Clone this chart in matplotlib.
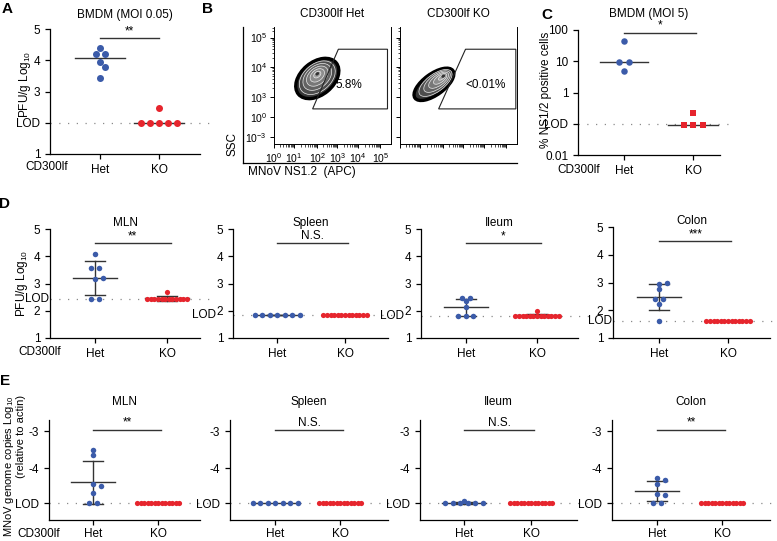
import numpy as np
import matplotlib
matplotlib.use('Agg')
import matplotlib.pyplot as plt
from matplotlib.patches import Ellipse, Polygon

plt.rcParams['font.family'] = ['Liberation Sans', 'DejaVu Sans']
plt.rcParams['mathtext.default'] = 'regular'
plt.rcParams['axes.unicode_minus'] = False
plt.rcParams['font.size'] = 8.5
plt.rcParams['axes.linewidth'] = 0.9
plt.rcParams['xtick.major.width'] = 0.9
plt.rcParams['ytick.major.width'] = 0.9

W, H = 777, 541
BLUE = '#3b5ba9'
RED = '#e6252d'
GREY = '#333333'

# ---- data ----
groups = ['Het', 'KO']

# A: BMDM (MOI 0.05), PFU/g log10
a_het = [4.38, 4.19, 4.19, 3.95, 3.79, 3.44]
a_ko = [2.46, 2.0, 2.0, 2.0, 2.0, 2.0]
a_lod = 2.0

# B: flow plots
b_titles = ['CD300lf Het', 'CD300lf KO']
b_percent = ['5.8%', '<0.01%']
b_xlabels = ['$10^{0}$', '$10^{1}$', '$10^{2}$', '$10^{3}$', '$10^{4}$', '$10^{5}$']
b_ylabels = ['$10^{-3}$', '$10^{0}$', '$10^{3}$', '$10^{4}$', '$10^{5}$']

# C: BMDM (MOI 5), % NS1/2 positive cells
c_het = [45, 9.5, 9.5, 5.0]
c_ko = [0.22, 0.09, 0.09, 0.09]
c_lod = 0.1

# D: PFU/g log10 in tissues
tissues = ['MLN', 'Spleen', 'Ileum', 'Colon']
d_lod = [2.43, 1.86, 1.82, 1.62]
d_sig = ['**', 'N.S.', '*', '***']
d_het = [[4.09, 3.57, 3.57, 3.15, 3.22, 2.43, 2.43],
         [1.86] * 7,
         [2.48, 2.48, 2.36, 2.15, 1.82, 1.82, 1.82],
         [2.95, 2.97, 2.76, 2.41, 2.41, 2.22, 1.62]]
d_ko = [[2.70] + [2.43] * 12,
        [1.86] * 13,
        [2.00] + [1.82] * 13,
        [1.62] * 13]

# E: MNoV genome copies log10 (relative to actin)
e_lod = -4.95
e_sig = ['**', 'N.S.', 'N.S.', '**']
e_het = [[-3.52, -3.66, -4.42, -4.49, -4.68, -4.95, -4.95],
         [-4.95] * 7,
         [-4.90] + [-4.95] * 6,
         [-4.27, -4.33, -4.44, -4.69, -4.73, -4.95, -4.95]]
e_ko = [[-4.95] * 13 for _ in range(4)]


fig = plt.figure(figsize=(W / 100, H / 100), dpi=100)


def px_axes(l, t, r, b):
    return fig.add_axes([l / W, 1 - b / H, (r - l) / W, (b - t) / H])


def dot_axes(l, t, r, b, het, ko):
    ax = px_axes(l, t, r, b)
    s = ko - het
    ax.set_xlim((l - het) / s, (r - het) / s)
    ax.spines[['top', 'right']].set_visible(False)
    ax.set_xticks([0, 1])
    ax.set_xticklabels(groups)
    ax.tick_params(direction='out', length=3.5)
    return ax


def px_per_x(ax):
    p = ax.transData.transform([(0, 1), (1, 1)])
    return p[1, 0] - p[0, 0]


def swarm(ax, vals, center, step, diam):
    vals = np.asarray(vals, float)
    ypix = ax.transData.transform(np.column_stack([np.zeros_like(vals), vals]))[:, 1]
    off = np.zeros(len(vals))
    uniq, counts = np.unique(vals, return_counts=True)
    for u, c in zip(uniq, counts):
        if c > 1:
            idx = np.where(vals == u)[0]
            off[idx] = (np.arange(c) - (c - 1) / 2) * step
    placed = []
    for i, v in enumerate(vals):
        if counts[np.searchsorted(uniq, v)] > 1:
            continue
        for k in [0, 1, -1, 2, -2, 3, -3]:
            o = k * step / 2
            if all(np.hypot(o - po, ypix[i] - py) >= diam for po, py in placed):
                break
        off[i] = o
        placed.append((o, ypix[i]))
    return center + off / px_per_x(ax)


def group(ax, vals, pos, color, marker, diam, step, stat, half=22, cap=10):
    ppx = px_per_x(ax)
    vals = np.asarray(vals, float)
    if stat == 'median':
        m = np.median(vals)
        ax.plot([pos - half / ppx, pos + half / ppx], [m, m], color=GREY, lw=1, zorder=3)
    else:
        m = vals.mean()
        sd = vals.std(ddof=1)
        ax.plot([pos - half / ppx, pos + half / ppx], [m, m], color=GREY, lw=1, zorder=3)
        if sd > 0:
            ax.plot([pos, pos], [m - sd, m + sd], color=GREY, lw=1, zorder=3)
            for y in (m - sd, m + sd):
                ax.plot([pos - cap / ppx, pos + cap / ppx], [y, y], color=GREY, lw=1, zorder=3)
    xs = swarm(ax, vals, pos, step, diam * 0.85)
    ax.scatter(xs, vals, s=(diam * 0.72) ** 2, color=color, marker=marker,
               linewidths=0, zorder=4, clip_on=False)


def lod_line(ax, lod):
    x0, x1 = ax.get_xlim()
    ax.plot([x0, x1 + 0.15], [lod, lod], color='#8a8a8a', lw=0.9,
            ls=(0, (1, 6)), zorder=1, clip_on=False)


def sig(ax, x0, x1, y, txt):
    ax.plot([x0, x1], [y, y], color=GREY, lw=1, clip_on=False)
    ax.annotate(txt, xy=((x0 + x1) / 2, y), xytext=(0, 0.8), textcoords='offset points',
                ha='center', va='bottom', annotation_clip=False)


def lod_label(ax, lod, off):
    ax.annotate('LOD', xy=(0, lod), xycoords=('axes fraction', 'data'),
                xytext=(-off, 0), textcoords='offset points', ha='right', va='center')


def txt(x, y, s, **kw):
    fig.text(x / W, 1 - y / H, s, **kw)


# ---- A ----
ax = dot_axes(50, 29, 200, 154, 100, 159)
ax.set_ylim(1, 5)
ax.set_yticks([1, 2, 3, 4, 5])
ax.set_yticklabels(['1', 'LOD', '3', '4', '5'])
lod_line(ax, a_lod)
group(ax, a_het, 0, BLUE, 'o', 7, 9, 'median', half=25)
group(ax, a_ko, 1, RED, 'o', 7, 9, 'median', half=25)
sig(ax, 0, 1.0, 4.71, '**')
ax.set_title('BMDM (MOI 0.05)', pad=8, fontsize=8.5)
txt(25, 84, 'PFU/g Log$_{10}$', rotation=90, ha='center', va='center')
txt(25, 167, 'CD300lf', ha='left', va='center')

# ---- B ----
frame = px_axes(243, 27, 517, 163)
frame.set_facecolor('none')
frame.spines[['top', 'right']].set_visible(False)
frame.set_xticks([])
frame.set_yticks([])
txt(233, 144, 'SSC', rotation=90, ha='center', va='center')
txt(248, 172, 'MNoV NS1.2  (APC)', ha='left', va='center')

bx_major = [0.0, 0.17, 0.37, 0.54, 0.72, 0.91]
by_major = [0.06, 0.23, 0.40, 0.66, 0.91]
bx_minor = []
for a, b in zip(bx_major[:-1], bx_major[1:]):
    bx_minor += [a + (b - a) * np.log10(m) for m in range(2, 10)]
by_minor = []
for a, b in zip(by_major[2:-1], by_major[3:]):
    by_minor += [a + (b - a) * np.log10(m) for m in range(2, 10)]
by_minor += [0.965, 0.99]

blobs = [dict(c=(0.37, 0.56), w=0.42, h=0.28, ang=40, core=(0.37, 0.60)),
         dict(c=(0.29, 0.51), w=0.40, h=0.18, ang=36, core=(0.37, 0.58))]
gates = [[(0.33, 0.30), (0.55, 0.81), (0.97, 0.81), (0.97, 0.30)],
         [(0.33, 0.30), (0.56, 0.81), (0.99, 0.81), (0.99, 0.30)]]
pct_pos = [(0.64, 0.50), (0.73, 0.50)]

for i, (title, pct) in enumerate(zip(b_titles, b_percent)):
    l = [274, 400][i]
    bx = px_axes(l, 27, l + 117, 144)
    bx.set_facecolor('none')
    bx.set_xlim(0, 1)
    bx.set_ylim(0, 1)
    bx.spines['top'].set_visible(False)
    bx.spines[['left', 'right', 'bottom']].set_linewidth(0.7)
    bx.set_xticks(bx_major)
    bx.set_xticks(bx_minor, minor=True)
    bx.set_yticks(by_major)
    bx.set_yticks(by_minor, minor=True)
    bx.tick_params(direction='out', length=3, width=0.7, labelsize=7.5, pad=2)
    bx.tick_params(which='minor', length=1.8, width=0.5)
    if i == 0:
        bx.set_xticklabels(b_xlabels)
        bx.set_yticklabels(b_ylabels)
    else:
        bx.set_xticklabels([])
        bx.set_yticklabels([])
    bx.set_title(title, pad=7, fontsize=8.5)
    bx.text(*pct_pos[i], pct, transform=bx.transAxes, ha='center', va='center',
            fontsize=8.5, zorder=1)
    bl = blobs[i]
    n = 6
    for k in range(n):
        f = 1 - k / n
        cx = bl['core'][0] + (bl['c'][0] - bl['core'][0]) * f
        cy = bl['core'][1] + (bl['c'][1] - bl['core'][1]) * f
        shade = 0.22 + 0.5 * k / n
        bx.add_patch(Ellipse((cx, cy), bl['w'] * f, bl['h'] * f, angle=bl['ang'],
                             transform=bx.transAxes, fc=str(shade),
                             ec='black' if k == 0 else '0.92',
                             lw=2.4 if k == 0 else 0.5, zorder=2))
    bx.add_patch(Ellipse(bl['core'], 0.035, 0.025, angle=bl['ang'], transform=bx.transAxes,
                         fc='0.2', ec='none', zorder=2))
    bx.add_patch(Polygon(gates[i], closed=True, fill=False, ec='#222222', lw=0.8,
                         transform=bx.transAxes, zorder=3))

# ---- C ----
ax = dot_axes(578, 30, 720, 155, 624, 693)
ax.set_yscale('log')
ax.set_ylim(0.01, 100)
ax.set_yticks([0.01, 0.1, 1, 10, 100])
ax.set_yticklabels(['0.01', 'LOD', '1', '10', '100'])
ax.yaxis.set_minor_locator(matplotlib.ticker.NullLocator())
lod_line(ax, c_lod)
group(ax, c_het, 0, BLUE, 'o', 6.5, 10, 'median', half=24)
group(ax, c_ko, 1, RED, 's', 6.5, 9.5, 'median', half=25)
sig(ax, 0, 1.04, 80, '*')
ax.set_title('BMDM (MOI 5)', pad=9, fontsize=8.5)
txt(546, 90, '% NS1/2 positive cells', rotation=90, ha='center', va='center')
txt(557, 170, 'CD300lf', ha='left', va='center')

# ---- D ----
d_boxes = [(50, 229, 200, 338, 95, 167), (233, 229, 388, 338, 277, 345),
           (421, 229, 578, 338, 466, 537), (613, 227, 770, 338, 659, 728)]
for i, name in enumerate(tissues):
    ax = dot_axes(*d_boxes[i])
    ax.set_ylim(1, 5)
    ax.set_yticks([1, 2, 3, 4, 5])
    lod_line(ax, d_lod[i])
    lod_label(ax, d_lod[i], 12.5 if abs(d_lod[i] - 2) < 0.3 else 0.5)
    group(ax, d_het[i], 0, BLUE, 'o', 5.5, 7.5, 'mean')
    group(ax, d_ko[i], 1, RED, 'o', 5.2, 3.6, 'mean')
    sig(ax, 0, 1.05, 4.48, d_sig[i])
    ax.set_title(name, pad=2, fontsize=8.5)
txt(22, 283, 'PFU/g Log$_{10}$', rotation=90, ha='center', va='center')
txt(18, 352, 'CD300lf', ha='left', va='center')

# ---- E ----
e_boxes = [(49, 420, 200, 520, 93, 158), (230, 420, 388, 520, 275, 340),
           (420, 420, 577, 520, 464, 531), (612, 420, 770, 520, 657, 722)]
for i, name in enumerate(tissues):
    ax = dot_axes(*e_boxes[i])
    ax.set_ylim(-5.405, -2.70)
    ax.set_yticks([e_lod, -4, -3])
    ax.set_yticklabels(['LOD', '-4', '-3'])
    ax.tick_params(axis='x', pad=2.5)
    lod_line(ax, e_lod)
    group(ax, e_het[i], 0, BLUE, 'o', 5.5, 7.5, 'mean')
    group(ax, e_ko[i], 1, RED, 'o', 5.2, 3.5, 'mean')
    sig(ax, 0, 1.05, -2.97, e_sig[i])
    ax.set_title(name, pad=11, fontsize=8.5)
txt(14, 395, 'MNoV genome copies Log$_{10}$\n(relative to actin)', rotation=90,
    ha='center', va='top', multialignment='right', linespacing=1.05, fontsize=8)
txt(17, 534, 'CD300lf', ha='left', va='center')

# panel letters
for letter, (x, y) in zip('ABCDE', [(7, 9), (207, 9), (547, 15), (5, 204), (5, 381)]):
    txt(x, y, letter, fontsize=11, fontweight='bold', ha='center', va='center')

fig.savefig('out.png', dpi=100)
